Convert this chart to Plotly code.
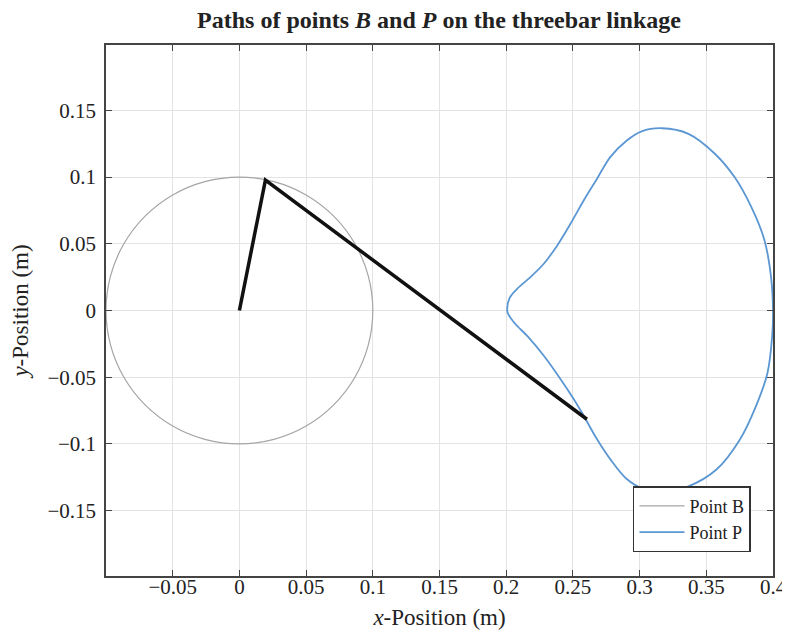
import plotly.graph_objects as go

# Path of point B (crank circle)
b_x = [0.1, 0.0966, 0.0866, 0.0707, 0.05, 0.0259, 0.0, -0.0259, -0.05, -0.0707, -0.0866, -0.0966,
       -0.1, -0.0966, -0.0866, -0.0707, -0.05, -0.0259, 0.0, 0.0259, 0.05, 0.0707, 0.0866, 0.0966, 0.1]
b_y = [0.0, 0.0259, 0.05, 0.0707, 0.0866, 0.0966, 0.1, 0.0966, 0.0866, 0.0707, 0.05, 0.0259,
       0.0, -0.0259, -0.05, -0.0707, -0.0866, -0.0966, -0.1, -0.0966, -0.0866, -0.0707, -0.05, -0.0259, 0.0]

# Path of point P
p_x = [0.2007, 0.2025, 0.2087, 0.2186, 0.2285, 0.2384, 0.2483, 0.2582, 0.2681, 0.2780, 0.2904, 0.3015,
       0.3168, 0.3366, 0.3564, 0.3713, 0.3837, 0.3936, 0.3985, 0.4000,
       0.3995, 0.3958, 0.3871, 0.3750, 0.3574, 0.3366, 0.3168, 0.3028, 0.2904, 0.2780, 0.2681,
       0.2582, 0.2508, 0.2409, 0.2285, 0.2161, 0.2062, 0.2012, 0.2007]
p_y = [0.0005, 0.0093, 0.0167, 0.0254, 0.0354, 0.0490, 0.0652, 0.0826, 0.0988, 0.1150, 0.1274, 0.1343,
       0.1366, 0.1324, 0.1175, 0.0998, 0.0776, 0.0527, 0.0254, 0.0000,
       -0.0174, -0.0470, -0.0720, -0.0970, -0.1194, -0.1318, -0.1362, -0.1338, -0.1263, -0.1114, -0.0965,
       -0.0791, -0.0667, -0.0517, -0.0343, -0.0194, -0.0094, -0.0019, 0.0005]

# Linkage snapshot: A (origin), B, P
link_x = [0.0, 0.0195, 0.2605]
link_y = [0.0, 0.0977, -0.0815]

x_ticks = [-0.05, 0, 0.05, 0.1, 0.15, 0.2, 0.25, 0.3, 0.35, 0.4]
x_labels = ["\u22120.05", "0", "0.05", "0.1", "0.15", "0.2", "0.25", "0.3", "0.35", "0.4"]
y_ticks = [-0.15, -0.1, -0.05, 0, 0.05, 0.1, 0.15]
y_labels = ["\u22120.15", "\u22120.1", "\u22120.05", "0", "0.05", "0.1", "0.15"]

FONT = "Liberation Serif"
TXT = "#222222"

fig = go.Figure()
fig.add_trace(go.Scatter(x=b_x, y=b_y, mode="lines", name="Point B",
                         line=dict(color="#a5a5a5", width=1.2, shape="spline")))
fig.add_trace(go.Scatter(x=p_x, y=p_y, mode="lines", name="Point P",
                         line=dict(color="#5b97d3", width=1.8, shape="spline", smoothing=1.0)))
fig.add_trace(go.Scatter(x=link_x, y=link_y, mode="lines", showlegend=False,
                         line=dict(color="#111111", width=3.5)))

axis_common = dict(showgrid=True, gridcolor="#e3e3e3", gridwidth=1, zeroline=False,
                   showline=True, linecolor="#444444", linewidth=1.5, mirror="ticks",
                   ticks="inside", ticklen=6, tickcolor="#444444", automargin=False,
                   ticklabeloverflow="allow",
                   tickfont=dict(family=FONT, size=21, color=TXT))

# The page body has an 8 px margin; the plot frame is placed to match the window.
W, H = 790, 622
fig.update_layout(
    width=W, height=H,
    margin=dict(l=98, r=25, t=37, b=54, autoexpand=False),
    paper_bgcolor="white", plot_bgcolor="white",
    title=dict(text="<b>Paths of points <i>B</i> and <i>P</i> on the threebar linkage</b>",
               x=431 / W, xanchor="center", xref="container",
               y=1 - 12 / H, yanchor="middle",
               font=dict(family=FONT, size=24, color=TXT)),
    xaxis=dict(range=[-0.1, 0.4], tickvals=x_ticks, ticktext=x_labels,
               ticklabelstandoff=-9,
               title=dict(text="<i>x</i>-Position (m)", font=dict(family=FONT, size=23, color=TXT),
                          standoff=12),
               **axis_common),
    yaxis=dict(range=[-0.199, 0.199], tickvals=y_ticks, ticktext=y_labels,
               ticklabelstandoff=4,
               title=dict(text="<i>y</i>-Position (m)", font=dict(family=FONT, size=23, color=TXT),
                          standoff=14),
               **axis_common),
    legend=dict(x=0.967, y=0.045, xanchor="right", yanchor="bottom",
                bgcolor="white", bordercolor="#333333", borderwidth=1.5,
                font=dict(family=FONT, size=18, color=TXT),
                tracegroupgap=0, itemwidth=45),
    showlegend=True,
)

fig.write_html("out.html")
